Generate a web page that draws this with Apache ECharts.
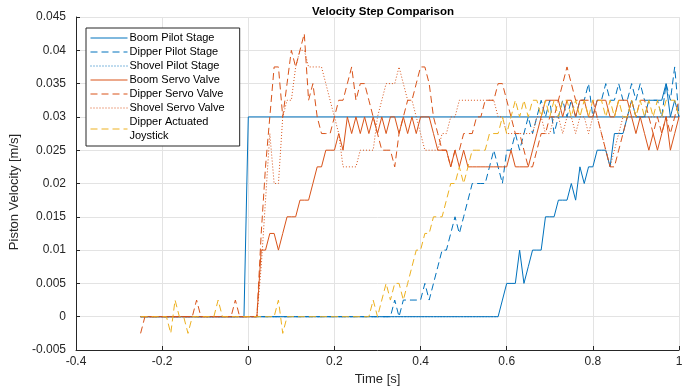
<!DOCTYPE html>
<html>
<head>
<meta charset="utf-8">
<script src="https://cdn.jsdelivr.net/npm/echarts@6/dist/echarts.min.js"></script>
<style>
  html, body { margin: 0; padding: 0; background: #fff; }
  #main { width: 699px; height: 389px; }
</style>
</head>
<body>
<div id="main"></div>
<script>
// sample times [s]
var times = [
  -0.25,-0.24,-0.23,-0.22,-0.21,-0.2,-0.19,-0.18,-0.17,-0.16,
  -0.15,-0.14,-0.13,-0.12,-0.11,-0.1,-0.09,-0.08,-0.07,-0.06,
  -0.05,-0.04,-0.03,-0.02,-0.01,0,0.01,0.02,0.03,0.04,
  0.05,0.06,0.07,0.08,0.09,0.1,0.11,0.12,0.13,0.14,
  0.15,0.16,0.17,0.18,0.19,0.2,0.21,0.22,0.23,0.24,
  0.25,0.26,0.27,0.28,0.29,0.3,0.31,0.32,0.33,0.34,
  0.35,0.36,0.37,0.38,0.39,0.4,0.41,0.42,0.43,0.44,
  0.45,0.46,0.47,0.48,0.49,0.5,0.51,0.52,0.53,0.54,
  0.55,0.56,0.57,0.58,0.59,0.6,0.61,0.62,0.63,0.64,
  0.65,0.66,0.67,0.68,0.69,0.7,0.71,0.72,0.73,0.74,
  0.75,0.76,0.77,0.78,0.79,0.8,0.81,0.82,0.83,0.84,
  0.85,0.86,0.87,0.88,0.89,0.9,0.91,0.92,0.93,0.94,
  0.95,0.96,0.97,0.98,0.99,1
];

// step command (no legend entry)
var stepTimes = [-0.25, -0.01, 0, 1];
var stepValues = [0, 0, 0.03, 0.03];

var boomPilot = [
  0,0,0,0,0,0,0,0,0,0,
  0,0,0,0,0,0,0,0,0,0,
  0,0,0,0,0,0,0,0,0,0,
  0,0,0,0,0,0,0,0,0,0,
  0,0,0,0,0,0,0,0,0,0,
  0,0,0,0,0,0,0,0,0,0,
  0,0,0,0,0,0,0,0,0,0,
  0,0,0,0,0,0,0,0,0,0,
  0,0,0,0,0.0025,0.005,0.005,0.005,0.01,0.005,
  0.0075,0.01,0.01,0.01,0.015,0.015,0.015,0.0175,0.0175,0.0175,
  0.02,0.0175,0.0225,0.02,0.0225,0.0225,0.025,0.025,0.025,0.0225,
  0.0275,0.0275,0.0275,0.03,0.0325,0.03,0.03,0.03,0.0325,0.0325,
  0.0325,0.0325,0.035,0.03,0.0325,0.03
];

var dipperPilot = [
  0,0,0,0,0,0,0,0,0,0,
  0,0,0,0,0,0,0,0,0,0,
  0,0,0,0,0,0,0,0,0,0,
  0,0,0,0,0,0,0,0,0,0,
  0,0,0,0,0,0,0,0,0,0,
  0,0,0,0,0,0,0,0,0,0.0025,
  0,0.0025,0.0025,0.0025,0.0025,0.0025,0.005,0.0025,0.005,0.0075,
  0.01,0.01,0.0125,0.015,0.0125,0.015,0.0175,0.02,0.02,0.02,
  0.02,0.0225,0.025,0.0225,0.02,0.025,0.025,0.0275,0.025,0.0275,
  0.03,0.0275,0.03,0.0325,0.03,0.0325,0.0275,0.03,0.0325,0.03,
  0.0325,0.03,0.0325,0.0325,0.035,0.03,0.0325,0.0325,0.035,0.0325,
  0.0325,0.035,0.0325,0.0325,0.035,0.0325,0.035,0.0325,0.0325,0.0325,
  0.0325,0.03,0.035,0.0325,0.0375,0.03
];

// shovel pilot stays at zero over the visible part of the trace
var shovelPilot = [
  0,0,0,0,0,0,0,0,0,0,
  0,0,0,0,0,0,0,0,0,0,
  0,0,0,0,0,0,0,0,0,0,
  0,0,0,0,0,0,0,0,0,0,
  0,0,0,0,0,0,0,0,0,0,
  0,0,0,0,0,0,0,0,0,0,
  0,0,0,0,0,0,0,0,0,0,
  0,0,0,0,0,0,0,0,0,0,
  0,0,0,0
];

var boomServo = [
  0,0,0,0,0,0,0,0,0,0,
  0,0,0,0,0,0,0,0,0,0,
  0,0,0,0,0,0,0,0,0.01,0.01,
  0.0125,0.0125,0.01,0.0125,0.015,0.015,0.015,0.0175,0.0175,0.0175,
  0.02,0.0225,0.0225,0.025,0.025,0.025,0.0275,0.025,0.03,0.0275,
  0.03,0.0275,0.03,0.0275,0.03,0.0275,0.03,0.0275,0.03,0.03,
  0.0275,0.03,0.0275,0.03,0.0275,0.03,0.03,0.03,0.0275,0.025,
  0.025,0.025,0.0225,0.025,0.0225,0.025,0.0225,0.0225,0.0225,0.0225,
  0.0225,0.0225,0.0225,0.0225,0.0225,0.0225,0.025,0.0225,0.0225,0.0225,
  0.0225,0.025,0.0275,0.03,0.0325,0.0325,0.0325,0.0325,0.03,0.0325,
  0.0325,0.03,0.0325,0.0325,0.03,0.03,0.0325,0.0325,0.0325,0.03,
  0.03,0.0325,0.0325,0.0325,0.03,0.0275,0.03,0.0275,0.025,0.0275,
  0.025,0.0275,0.03,0.025,0.0275,0.03
];

var dipperServo = [
  -0.0025,0,0,0,0,0,0,0,0,0,
  0,0,0,0.0025,0,0,0,0,0,0,
  0,0,0.0025,0,0,0,0,0,0.0125,0.0225,
  0.03,0.0375,0.0375,0.03,0.035,0.04,0.0375,0.04,0.0425,0.0325,
  0.035,0.03,0.0275,0.0275,0.0275,0.03,0.0325,0.0325,0.035,0.0375,
  0.0325,0.035,0.035,0.0325,0.03,0.0275,0.025,0.025,0.025,0.0225,
  0.0275,0.03,0.0325,0.0325,0.035,0.0375,0.0375,0.035,0.03,0.0275,
  0.025,0.025,0.0225,0.025,0.025,0.0275,0.0275,0.0275,0.03,0.03,
  0.0325,0.0325,0.0325,0.035,0.035,0.0325,0.03,0.0275,0.0275,0.025,
  0.0225,0.0225,0.025,0.0275,0.0275,0.03,0.03,0.0325,0.035,0.0375,
  0.035,0.0325,0.0325,0.0325,0.0325,0.0325,0.03,0.0275,0.025,0.0225,
  0.0225,0.025,0.0275,0.03,0.0325,0.03,0.0325,0.0325,0.03,0.0275,
  0.03,0.0275,0.03,0.0275,0.03,0.0325
];

var shovelServo = [
  0,0,0,0,0,0,0,0,0,0,
  0,0,0,0,0,0,0,0,0,0,
  0,0,0,0,0,0,0,0,0.0075,0.0175,
  0.0275,0.02,0.02,0.03,0.0325,0.0325,0.0375,0.04,0.04,0.0375,
  0.0375,0.0375,0.0375,0.035,0.0325,0.03,0.0275,0.0225,0.0225,0.0225,
  0.0225,0.025,0.025,0.025,0.025,0.03,0.0325,0.035,0.035,0.035,
  0.0375,0.035,0.0325,0.0325,0.03,0.0275,0.025,0.025,0.025,0.025,
  0.0275,0.0275,0.03,0.03,0.0325,0.0325,0.0325,0.0325,0.0325,0.0325,
  0.0325,0.0325,0.0325,0.03,0.03,0.0275,0.0275,0.0275,0.0275,0.0275,
  0.0275,0.0275,0.03,0.03,0.0275,0.0275,0.03,0.03,0.0275,0.03,
  0.03,0.0275,0.03,0.03,0.0275,0.03,0.03,0.0275,0.025,0.0225,
  0.025,0.0275,0.03,0.03,0.03,0.03,0.03,0.03,0.03,0.03,
  0.03,0.03,0.03,0.03,0.03,0.03
];

var dipperJoystick = [
  0,0,0,0,0,0,0,-0.0025,0.0025,0,
  0,-0.0025,0,0,0,0,0,0,0.0025,0,
  0,0,0,0,0,0,0,0,0,0,
  0,0,0.0025,-0.0025,0,0,0,0,0,0,
  0,0,0,0,0,0,0,0,0,0,
  0,0,0,0,0.0025,0,0.0025,0.005,0.0025,0.005,
  0.005,0.0025,0.005,0.0075,0.01,0.01,0.0125,0.0125,0.015,0.015,
  0.015,0.0175,0.02,0.02,0.0225,0.02,0.0225,0.025,0.025,0.025,
  0.025,0.0275,0.0275,0.0275,0.03,0.0275,0.03,0.0325,0.03,0.0325,
  0.03,0.0325,0.0325,0.03,0.0325,0.03,0.0325,0.03,0.0325,0.0325,
  0.03,0.0325,0.03,0.0325,0.03,0.0325,0.0325,0.0325,0.03,0.0325,
  0.03,0.0325,0.03,0.03,0.0325,0.03,0.0325,0.03,0.0325,0.03,
  0.0325,0.03,0.0325,0.0325,0.0325,0.03
];

var blue = '#0072BD', orange = '#D95319', yellow = '#EDB120';
var fontFam = '"Liberation Sans", Arial, sans-serif';

function pairs(ts, vals) {
    var res = [];
    for (var i = 0; i < ts.length && i < vals.length; i++) {
        res.push([ts[i], vals[i]]);
    }
    return res;
}

function lineSeries(name, vals, color, dash, ts) {
    return {
        name: name,
        type: 'line',
        data: pairs(ts || times, vals),
        symbol: 'none',
        lineStyle: { color: color, width: 1, type: dash },
        itemStyle: { color: color },
        animation: false
    };
}

var option = {
    backgroundColor: '#fff',
    animation: false,
    title: {
        text: 'Velocity Step Comparison',
        left: 378,
        textAlign: 'center',
        top: 1,
        textStyle: { fontFamily: fontFam, fontSize: 11.5, fontWeight: 'bold', color: '#000' }
    },
    legend: {
        data: ['Boom Pilot Stage', 'Dipper Pilot Stage', 'Shovel Pilot Stage',
               'Boom Servo Valve', 'Dipper Servo Valve', 'Shovel Servo Valve',
               'Dipper Actuated Joystick'],
        orient: 'vertical',
        left: 86,
        top: 28,
        padding: [3, 15, 3, 4],
        itemGap: 0,
        itemWidth: 37,
        itemHeight: 14,
        borderColor: '#262626',
        borderWidth: 1,
        backgroundColor: '#fff',
        itemStyle: { opacity: 0 },
        lineStyle: { width: 1 },
        formatter: function (name) {
            return name === 'Dipper Actuated Joystick' ? 'Dipper Actuated\nJoystick' : name;
        },
        textStyle: { fontFamily: fontFam, fontSize: 11, color: '#000', lineHeight: 14, padding: [0, 0, 0, -3] }
    },
    grid: { left: 76, right: 20, top: 17, bottom: 39, outerBoundsMode: 'none', containLabel: false },
    xAxis: {
        type: 'value',
        min: -0.4,
        max: 1,
        interval: 0.2,
        name: 'Time [s]',
        nameLocation: 'middle',
        nameGap: 23,
        nameTextStyle: { fontFamily: fontFam, fontSize: 13, color: '#262626' },
        axisLine: { onZero: false, lineStyle: { color: '#262626', width: 1 } },
        axisTick: { inside: true, length: 4, lineStyle: { color: '#262626' } },
        axisLabel: {
            fontFamily: fontFam, fontSize: 12, color: '#262626', margin: 6,
            formatter: function (v) { return String(parseFloat(v.toFixed(3))); }
        },
        splitLine: { show: true, lineStyle: { color: '#e3e3e3', width: 1 } }
    },
    yAxis: {
        type: 'value',
        min: -0.005,
        max: 0.045,
        interval: 0.005,
        name: 'Piston Velocity [m/s]',
        nameLocation: 'middle',
        nameGap: 41,
        nameTextStyle: { fontFamily: fontFam, fontSize: 13, color: '#262626', padding: [0, 17, 0, 0] },
        axisLine: { show: true, onZero: false, lineStyle: { color: '#262626', width: 1 } },
        axisTick: { show: true, inside: true, length: 4, lineStyle: { color: '#262626' } },
        axisLabel: {
            fontFamily: fontFam, fontSize: 12, color: '#262626', margin: 10,
            formatter: function (v) { return String(parseFloat(v.toFixed(4))); }
        },
        splitLine: { show: true, lineStyle: { color: '#e3e3e3', width: 1 } }
    },
    series: [
        lineSeries('Step Command', stepValues, blue, 'solid', stepTimes),
        lineSeries('Boom Pilot Stage', boomPilot, blue, 'solid'),
        lineSeries('Dipper Pilot Stage', dipperPilot, blue, [7, 4]),
        lineSeries('Shovel Pilot Stage', shovelPilot, blue, [1, 2]),
        lineSeries('Boom Servo Valve', boomServo, orange, 'solid'),
        lineSeries('Dipper Servo Valve', dipperServo, orange, [7, 4]),
        lineSeries('Shovel Servo Valve', shovelServo, orange, [1, 2]),
        lineSeries('Dipper Actuated Joystick', dipperJoystick, yellow, [7, 4])
    ]
};

var myChart = echarts.init(document.getElementById('main'));
myChart.setOption(option);
</script>
</body>
</html>
